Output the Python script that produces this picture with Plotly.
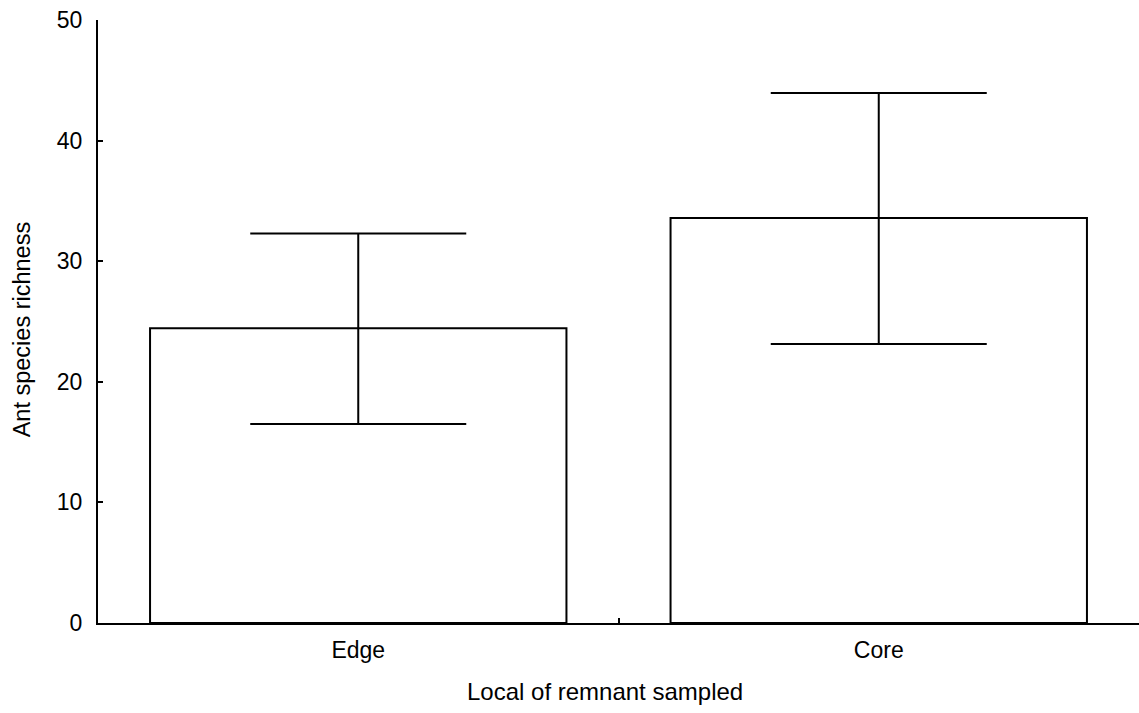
import plotly.graph_objects as go

categories = ["Edge", "Core"]
means = [24.45, 33.58]
err_upper = [7.85, 10.37]
err_lower = [7.95, 10.45]
y_ticks = [0, 10, 20, 30, 40, 50]

FONT = "Liberation Sans, Arial, sans-serif"

fig = go.Figure()
fig.add_trace(go.Bar(
    x=categories,
    y=means,
    width=0.8,
    marker=dict(color="white", line=dict(color="black", width=2)),
    error_y=dict(type="data", symmetric=False, array=err_upper, arrayminus=err_lower,
                 color="black", thickness=2, width=108),
    showlegend=False,
))

fig.update_layout(
    width=1139, height=713,
    margin=dict(l=98, r=0, t=20, b=90),
    plot_bgcolor="white", paper_bgcolor="white",
    font=dict(family=FONT, size=22, color="black"),
    bargap=0.2,
    annotations=[
        dict(text="Local of remnant sampled", xref="paper", yref="paper",
             x=0.487, y=-0.1144, xanchor="center", yanchor="middle",
             showarrow=False, font=dict(size=24)),
        dict(text="Ant species richness", xref="paper", yref="paper",
             x=-0.073, y=0.487, xanchor="center", yanchor="middle", textangle=-90,
             showarrow=False, font=dict(size=23.5)),
    ],
)
fig.update_xaxes(
    showline=True, linecolor="black", linewidth=2,
    ticks="inside", tickson="boundaries", ticklen=5, tickwidth=2, tickcolor="black",
    showgrid=False, zeroline=False,
    tickfont=dict(size=23),
    ticklabelstandoff=5,
)
fig.update_yaxes(
    range=[0, 50], tickvals=y_ticks, ticktext=[str(v) for v in y_ticks],
    showline=True, linecolor="black", linewidth=2,
    ticks="inside", ticklen=5, tickwidth=2, tickcolor="black",
    showgrid=False, zeroline=False,
    tickfont=dict(size=23),
    ticklabelstandoff=9,
)

fig.write_html("out.html")
